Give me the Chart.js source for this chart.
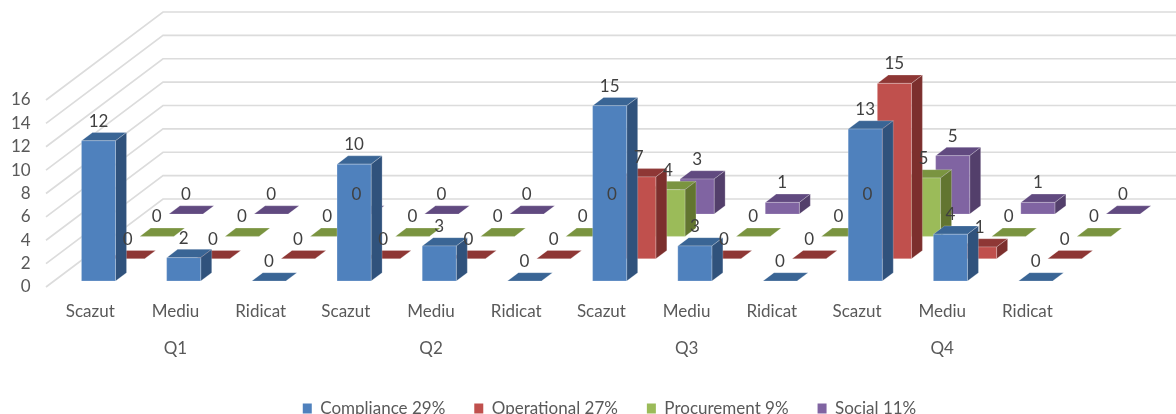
<!DOCTYPE html>
<html>
<head>
<meta charset="utf-8">
<title>Risc pe trimestre</title>
<script src="https://cdn.jsdelivr.net/npm/chart.js@4"></script>
<style>
  html, body { margin: 0; padding: 0; background: #fff; overflow: hidden; }
  #wrap { width: 1176px; height: 414px; }
</style>
</head>
<body>
<div id="wrap"><canvas id="chart3d"></canvas></div>
<script>
// data
const levels = ['Scazut', 'Mediu', 'Ridicat', 'Scazut', 'Mediu', 'Ridicat', 'Scazut', 'Mediu', 'Ridicat', 'Scazut', 'Mediu', 'Ridicat'];
const quarters = ['Q1', 'Q2', 'Q3', 'Q4'];
const yTicks = [0, 2, 4, 6, 8, 10, 12, 14, 16];
const seriesNames = ['Compliance 29%', 'Operational 27%', 'Procurement 9%', 'Social 11%'];
const compliance = [12, 2, 0, 10, 3, 0, 15, 3, 0, 13, 4, 0];
const operational = [0, 0, 0, 0, 0, 0, 7, 0, 0, 15, 1, 0];
const procurement = [0, 0, 0, 0, 0, 0, 4, 0, 0, 5, 0, 0];
const social = [0, 0, 0, 0, 0, 0, 3, 1, 0, 5, 1, 0];

// kleuren per serie: voorkant, zijkant, bovenkant
const frontColors = ['#4f81bd', '#c0504d', '#9bbb59', '#8064a2'];
const sideColors = ['#30527c', '#7c2f2d', '#627530', '#533f6b'];
const topColors = ['#3a6595', '#8e3735', '#7a9440', '#614a80'];

// de 3d-hoek: hoeveel een rij naar achteren verschuift
const wallDx = 117, wallDy = 88;
const rowDx = 29.15, rowDy = 22.3;
const startDx = 8.2, startDy = 6;
const barDepthX = 11, barDepthY = 8.3;
const gridEnd = 1176;
const textFont = 'Lato, sans-serif';

function poly(ctx, pts, color) {
  ctx.fillStyle = color;
  ctx.strokeStyle = 'rgba(255, 255, 255, 0.22)';
  ctx.lineWidth = 1;
  ctx.beginPath();
  ctx.moveTo(pts[0][0], pts[0][1]);
  for (let i = 1; i < pts.length; i++) {
    ctx.lineTo(pts[i][0], pts[i][1]);
  }
  ctx.closePath();
  ctx.fill();
  ctx.stroke();
}

const bars3d = {
  id: 'bars3d',
  afterLayout(chart) {
    // legenda staat niet in het midden van de canvas
    chart.legend.right = 1219;
  },
  // de muur met de rasterlijnen
  beforeDatasetsDraw(chart) {
    const ctx = chart.ctx;
    const y = chart.scales.y;
    ctx.save();
    ctx.strokeStyle = '#dcdcdc';
    ctx.lineWidth = 1.7;
    for (let i = 0; i < yTicks.length; i++) {
      const py = y.getPixelForValue(yTicks[i]);
      ctx.beginPath();
      ctx.moveTo(46, py);
      ctx.lineTo(46 + wallDx, py - wallDy);
      ctx.lineTo(gridEnd, py - wallDy);
      ctx.stroke();
    }
    ctx.restore();
  },
  // balken zelf, de achterste rij eerst (chart.js tekent dataset 0 als laatste)
  beforeDatasetDraw(chart, args) {
    const ctx = chart.ctx;
    const r = args.index;
    const dx = startDx + r * rowDx;
    const dy = startDy + r * rowDy;
    ctx.save();
    for (let i = 0; i < args.meta.data.length; i++) {
      const bar = args.meta.data[i];
      const l = bar.x - bar.width / 2 + dx;
      const w = bar.x + bar.width / 2 + dx;
      const t = bar.y - dy;
      const b = bar.base - dy;
      poly(ctx, [[l, t], [l + barDepthX, t - barDepthY], [w + barDepthX, t - barDepthY], [w, t]], topColors[r]);
      // een balk met waarde 0 is alleen een plat vlak
      if (b > t) {
        poly(ctx, [[w, t], [w + barDepthX, t - barDepthY], [w + barDepthX, b - barDepthY], [w, b]], sideColors[r]);
        poly(ctx, [[l, t], [w, t], [w, b], [l, b]], frontColors[r]);
      }
    }
    ctx.restore();
    return false;
  },
  // waarden bovenop alles
  afterDatasetsDraw(chart) {
    const ctx = chart.ctx;
    ctx.save();
    ctx.fillStyle = '#404040';
    ctx.font = '17px ' + textFont;
    ctx.textAlign = 'center';
    ctx.textBaseline = 'middle';
    chart.data.datasets.forEach((set, r) => {
      const meta = chart.getDatasetMeta(r);
      meta.data.forEach((bar, i) => {
        const dx = startDx + r * rowDx;
        const dy = startDy + r * rowDy;
        ctx.fillText(set.data[i], bar.x + dx, bar.y - dy - 19.5);
      });
    });
    ctx.restore();
  }
};

new Chart(document.getElementById('chart3d'), {
  type: 'bar',
  data: {
    labels: levels,
    datasets: [
      { label: seriesNames[0], data: compliance, backgroundColor: frontColors[0] },
      { label: seriesNames[1], data: operational, backgroundColor: frontColors[1] },
      { label: seriesNames[2], data: procurement, backgroundColor: frontColors[2] },
      { label: seriesNames[3], data: social, backgroundColor: frontColors[3] }
    ]
  },
  options: {
    responsive: true,
    maintainAspectRatio: false,
    animation: false,
    grouped: false,
    categoryPercentage: 1,
    barPercentage: 0.4,
    layout: { padding: { top: 100, right: 106, bottom: -13, left: 0 } },
    plugins: {
      tooltip: { enabled: false },
      legend: {
        position: 'bottom',
        labels: {
          boxWidth: 9,
          boxHeight: 10,
          padding: 29,
          color: '#595959',
          font: { family: textFont, size: 17 }
        }
      }
    },
    scales: {
      x: {
        grid: { display: false },
        border: { display: false },
        ticks: { color: '#595959', padding: 6, autoSkip: false, maxRotation: 0, font: { family: textFont, size: 17 } },
        afterFit(scale) { scale.height = 40; }
      },
      xq: {
        type: 'category',
        labels: quarters,
        position: 'bottom',
        grid: { display: false },
        border: { display: false },
        ticks: { color: '#595959', padding: 3, maxRotation: 0, font: { family: textFont, size: 17 } },
        afterFit(scale) { scale.height = 44; }
      },
      y: {
        min: 0,
        max: 16,
        grid: { display: false },
        border: { display: false },
        ticks: { color: '#595959', padding: 9, stepSize: 2, autoSkip: false, font: { family: textFont, size: 17 } },
        afterFit(scale) { scale.width = 47.7; }
      }
    }
  },
  plugins: [bars3d]
});
</script>
</body>
</html>
